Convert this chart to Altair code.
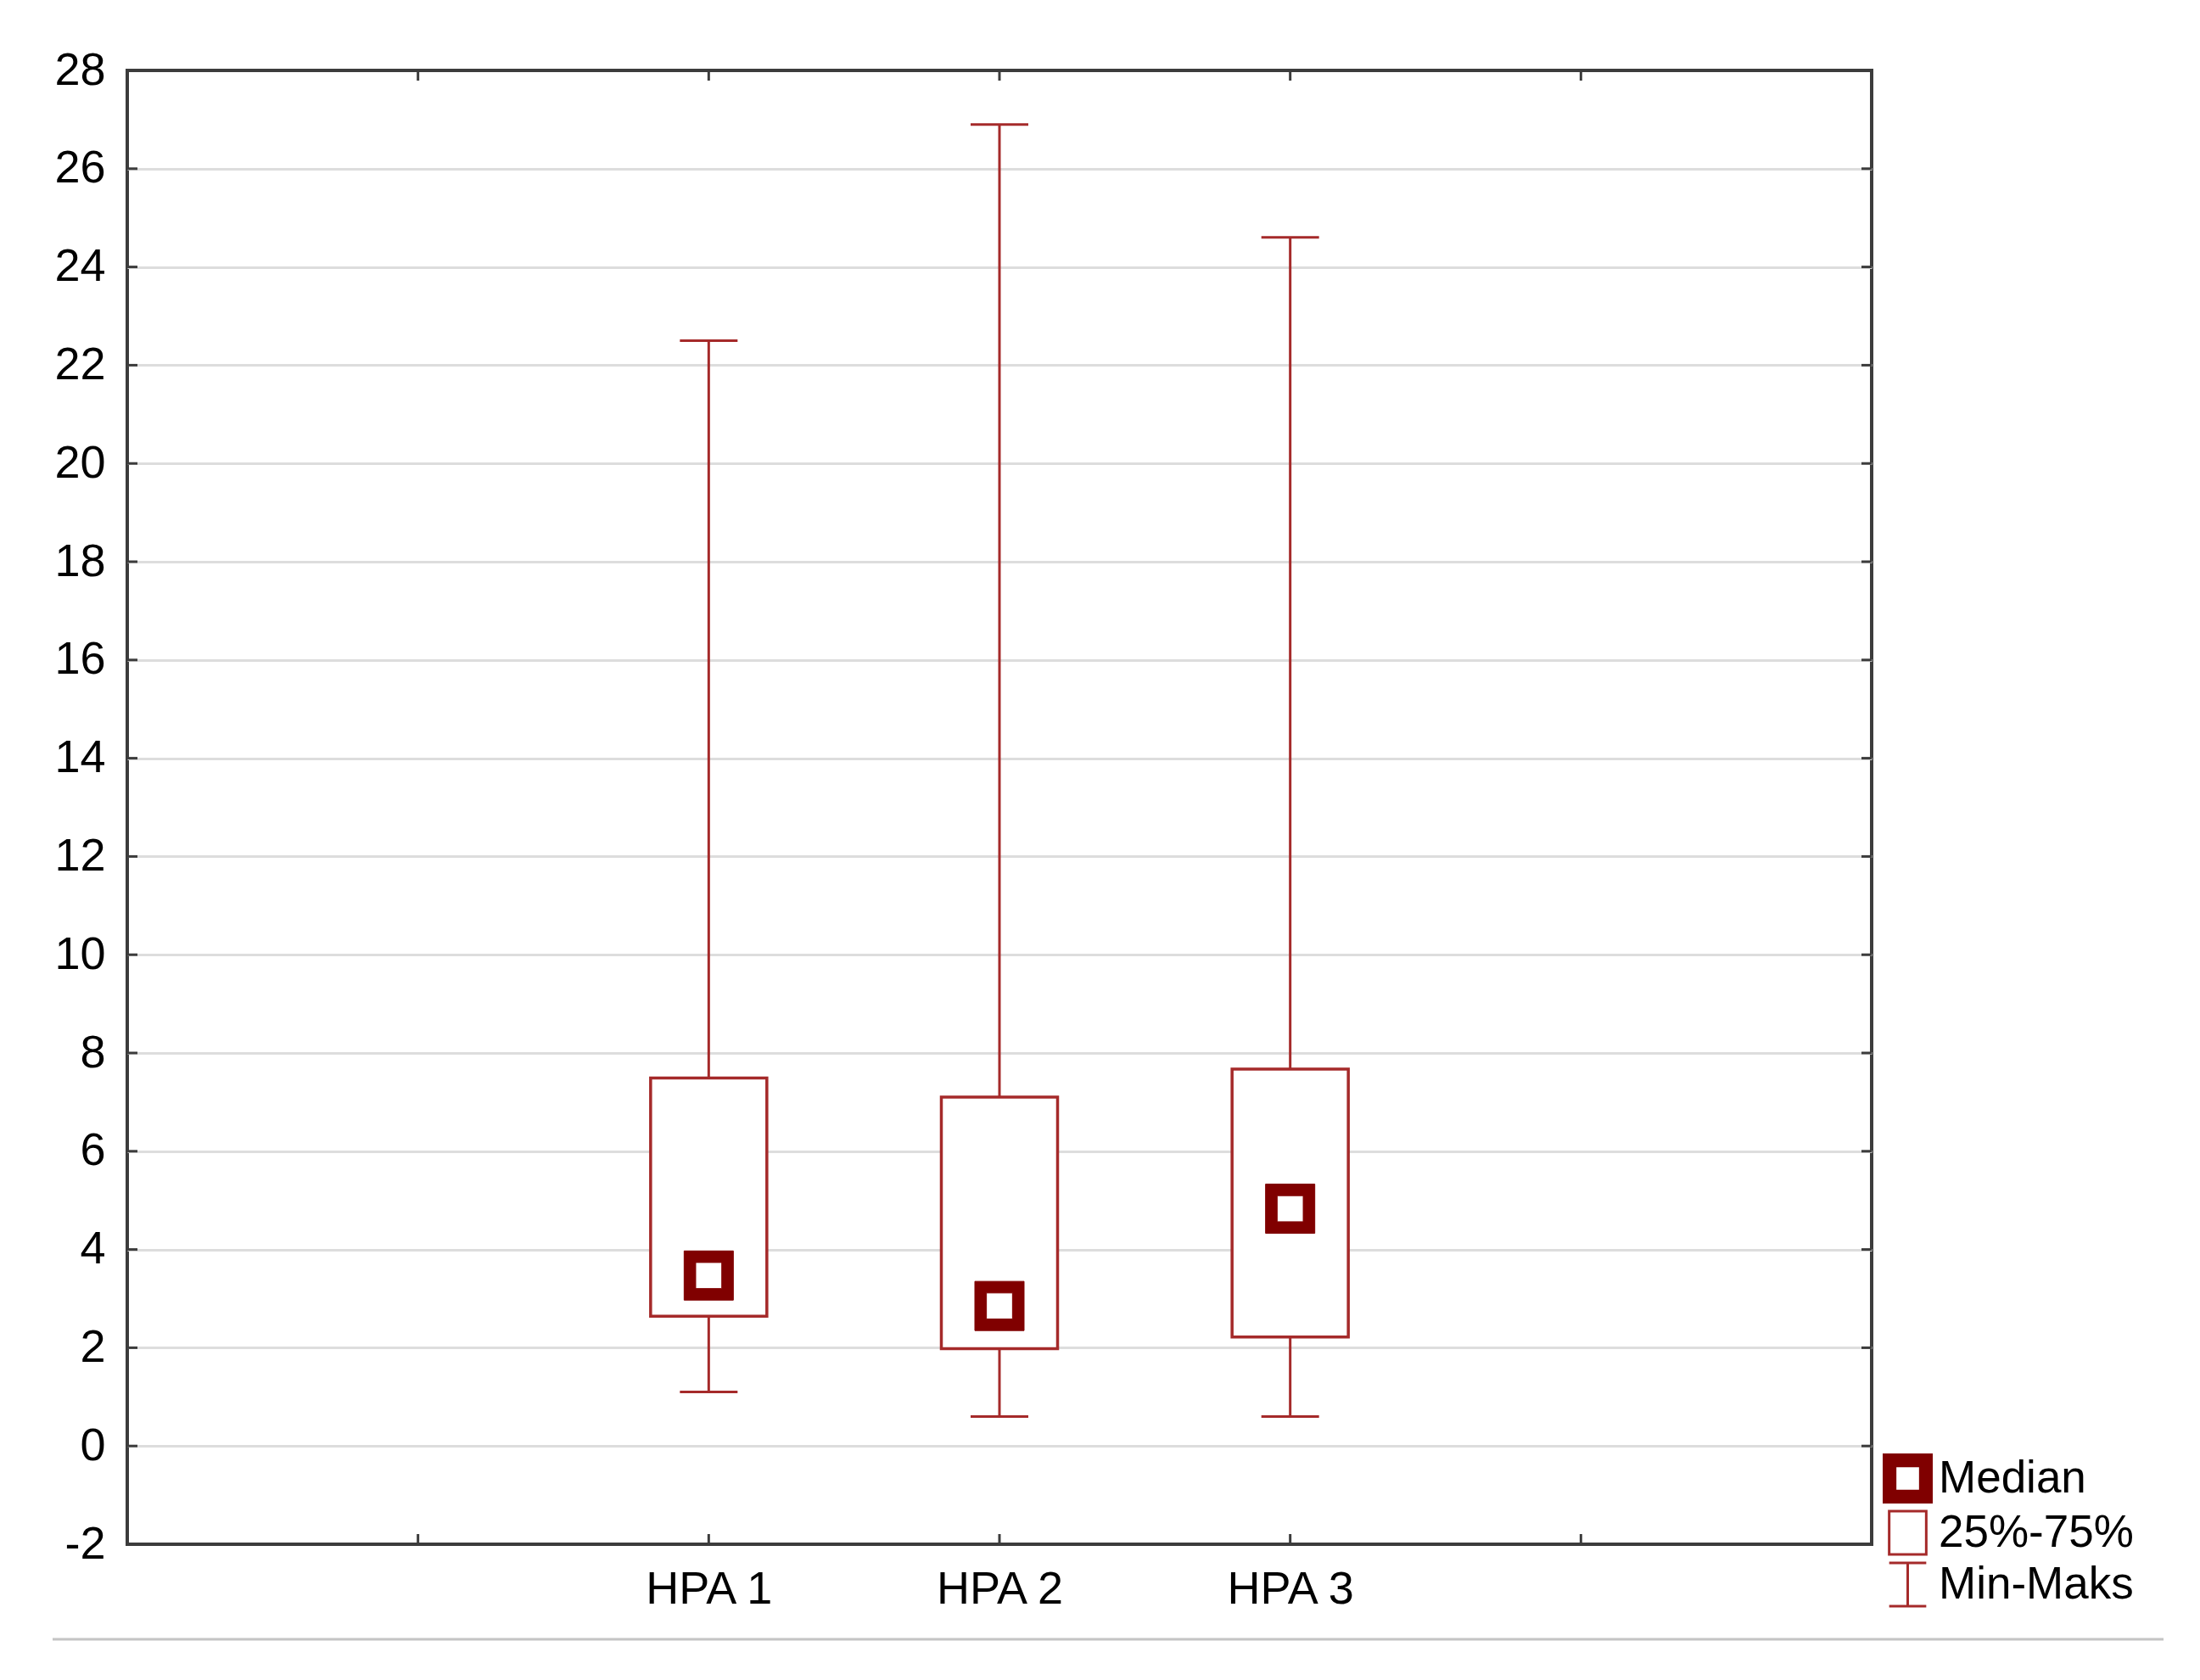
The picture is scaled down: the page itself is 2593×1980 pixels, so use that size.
import altair as alt
import pandas as pd

# ---- data ----
groups = ["HPA 1", "HPA 2", "HPA 3"]
mins = [1.1, 0.6, 0.6]
q1s = [2.64, 1.98, 2.22]
medians = [3.47, 2.85, 4.83]
q3s = [7.49, 7.1, 7.67]
maxs = [22.5, 26.9, 24.6]

x_slots = ["", "HPA 1", "HPA 2", "HPA 3", " "]
y_ticks = list(range(-2, 29, 2))
legend_items = ["Median", "25%-75%", "Min-Maks"]

# ---- styling ----
W, H = 2056, 1737
BOX = "#a52a2a"
MED = "#800000"
AX = "#3c3c3c"
GRID = "#dddddd"
FONT = "Liberation Sans"

df = pd.DataFrame({
    "group": groups, "min": mins, "q1": q1s, "median": medians,
    "q3": q3s, "max": maxs, "kind": ["Median"] * len(groups),
})
slots_df = pd.DataFrame({"slot": x_slots})
yt_df = pd.DataFrame({"v": y_ticks})

xscale = alt.Scale(type="point", domain=x_slots, padding=1)
xaxis = alt.Axis(title=None, labelAngle=0, tickSize=0, domain=False, grid=False,
                 labelFontSize=54, labelFont=FONT, labelColor="black", labelPadding=26)
yscale = alt.Scale(domain=[-2, 28], nice=False, zero=False)
yaxis = alt.Axis(title=None, values=y_ticks, tickSize=0, domain=False, grid=True,
                 gridColor=GRID, gridWidth=3,
                 gridOpacity={"condition": {"test": "datum.value === -2 || datum.value === 28", "value": 0}, "value": 1},
                 labelExpr="'' + datum.value",
                 labelFontSize=54, labelFont=FONT, labelColor="black", labelPadding=26)


def X(field):
    return alt.X(field, scale=xscale, axis=xaxis)


def Y(field):
    return alt.Y(field, scale=yscale, axis=yaxis)


base = alt.Chart(df)

whisk_hi = base.mark_rule(color=BOX, strokeWidth=3).encode(x=X("group:N"), y=Y("q3:Q"), y2="max:Q")
whisk_lo = base.mark_rule(color=BOX, strokeWidth=3).encode(x=X("group:N"), y=Y("min:Q"), y2="q1:Q")
box = base.mark_bar(width=137, fill="white", stroke=BOX, strokeWidth=3.5).encode(
    x=X("group:N"), y=Y("q1:Q"), y2="q3:Q")
cap_hi = base.mark_tick(orient="horizontal", size=68, thickness=3, color=BOX, opacity=1).encode(
    x=X("group:N"), y=Y("max:Q"))
cap_lo = base.mark_tick(orient="horizontal", size=68, thickness=3, color=BOX, opacity=1).encode(
    x=X("group:N"), y=Y("min:Q"))

med_path = "M-1,-1H1V1H-1Z M-0.53,-0.53V0.53H0.53V-0.53Z"
box_path = "M-0.78,-0.91H0.78V0.91H-0.78Z"
i_path = "M-0.78,-0.91H0.78M0,-0.91V0.91M-0.78,0.91H0.78"

leg = alt.Legend(title=None, orient="none", legendX=2069, legendY=1630,
                 symbolSize=3136, symbolStrokeWidth=3,
                 labelFontSize=53, labelFont=FONT, labelColor="black",
                 labelOffset=7, rowPadding=-4, padding=0, labelLimit=600)

median = base.mark_point(filled=True, size=3364, strokeWidth=1, opacity=1).encode(
    x=X("group:N"), y=Y("median:Q"),
    shape=alt.Shape("kind:N", scale=alt.Scale(domain=legend_items, range=[med_path, box_path, i_path]), legend=leg),
    fill=alt.Fill("kind:N", scale=alt.Scale(domain=legend_items, range=[MED, "white", "white"]), legend=leg),
    stroke=alt.Stroke("kind:N", scale=alt.Scale(domain=legend_items, range=[MED, BOX, BOX]), legend=leg),
)

# inward ticks on all four sides
tk_bottom = alt.Chart(slots_df).mark_rule(color=AX, strokeWidth=3).encode(
    x=X("slot:N"), y=alt.value(H), y2=alt.value(H - 12))
tk_top = alt.Chart(slots_df).mark_rule(color=AX, strokeWidth=3).encode(
    x=X("slot:N"), y=alt.value(0), y2=alt.value(12))
tk_left = alt.Chart(yt_df).mark_rule(color=AX, strokeWidth=3).encode(
    y=Y("v:Q"), x=alt.value(0), x2=alt.value(12))
tk_right = alt.Chart(yt_df).mark_rule(color=AX, strokeWidth=3).encode(
    y=Y("v:Q"), x=alt.value(W - 12), x2=alt.value(W))

# thin grey separator line under the figure
sep = alt.Chart(pd.DataFrame({"a": [0]})).mark_rule(color="#c4c4c4", strokeWidth=3).encode(
    x=alt.value(-88), x2=alt.value(2400), y=alt.value(1849))

chart = alt.layer(
    whisk_hi, whisk_lo, box, cap_hi, cap_lo, tk_bottom, tk_top, tk_left, tk_right, sep, median
).properties(
    width=W, height=H, background="white",
    padding={"left": 52, "top": 48, "right": 10, "bottom": 10},
).configure_view(stroke=AX, strokeWidth=4)

chart.save("out.html", embed_options={"renderer": "svg", "actions": False})
